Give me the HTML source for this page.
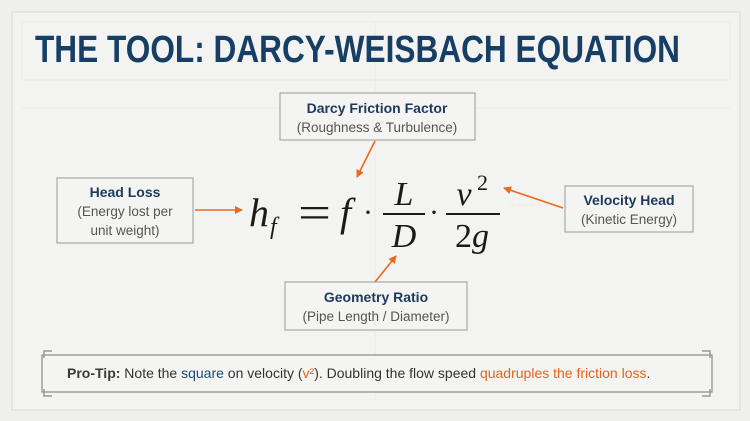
<!DOCTYPE html>
<html><head><meta charset="utf-8"><style>
html,body{margin:0;padding:0;background:#eeeeec;}
svg{display:block}
</style></head><body>
<svg width="750" height="421" viewBox="0 0 750 421" xmlns="http://www.w3.org/2000/svg">
<rect x="0" y="0" width="750" height="421" fill="#efefed"/>
<rect x="12" y="12" width="728" height="398" fill="#f3f3f1" stroke="#d8d8d6" stroke-width="1"/>
<rect x="22" y="22" width="708" height="58" fill="none" stroke="#e8e8e6" stroke-width="1"/>
<g stroke="#e8e8e6" stroke-width="1">
<line x1="375" y1="22" x2="375" y2="400"/>
<line x1="22" y1="108" x2="730" y2="108"/>
<line x1="510" y1="205" x2="560" y2="205" stroke-dasharray="4 3"/>
</g>
<text x="35" y="62" font-family="Liberation Sans, sans-serif" font-weight="bold" font-size="38" fill="#173f66" textLength="645" lengthAdjust="spacingAndGlyphs">THE TOOL: DARCY-WEISBACH EQUATION</text>

<g font-family="Liberation Sans, sans-serif" text-anchor="middle">
<rect x="280" y="93" width="195" height="47" fill="#f4f4f2" stroke="#9a9a9a"/>
<text x="377" y="113" font-size="14" font-weight="bold" fill="#1d3a5c">Darcy Friction Factor</text>
<text x="377" y="132" font-size="13.5" fill="#555">(Roughness &amp; Turbulence)</text>

<rect x="57" y="178" width="136" height="65" fill="#f4f4f2" stroke="#9a9a9a"/>
<text x="125" y="197" font-size="14" font-weight="bold" fill="#1d3a5c">Head Loss</text>
<text x="125" y="216" font-size="13.5" fill="#555">(Energy lost per</text>
<text x="125" y="235" font-size="13.5" fill="#555">unit weight)</text>

<rect x="565" y="186" width="128" height="46" fill="#f4f4f2" stroke="#9a9a9a"/>
<text x="629" y="205" font-size="14" font-weight="bold" fill="#1d3a5c">Velocity Head</text>
<text x="629" y="224" font-size="13.5" fill="#555">(Kinetic Energy)</text>

<rect x="285" y="282" width="182" height="48" fill="#f4f4f2" stroke="#9a9a9a"/>
<text x="376" y="302" font-size="14" font-weight="bold" fill="#1d3a5c">Geometry Ratio</text>
<text x="376" y="321" font-size="13.5" fill="#555">(Pipe Length / Diameter)</text>
</g>

<g font-family="Liberation Serif, serif" fill="#1a1a1a">
<text x="249" y="226" font-size="40" font-style="italic">h</text>
<text x="270" y="234" font-size="24" font-style="italic">f</text>
<text x="298" y="228" font-size="46" textLength="33" lengthAdjust="spacingAndGlyphs">=</text>
<text x="340" y="226" font-size="40" font-style="italic">f</text>
<text x="363" y="222" font-size="30">·</text>
<text x="404" y="205" font-size="34" font-style="italic" text-anchor="middle">L</text>
<line x1="383" y1="214" x2="425" y2="214" stroke="#1a1a1a" stroke-width="2"/>
<text x="404" y="247" font-size="34" font-style="italic" text-anchor="middle">D</text>
<text x="429" y="222" font-size="30">·</text>
<text x="464" y="205" font-size="34" font-style="italic" text-anchor="middle">v</text>
<text x="477" y="190" font-size="22">2</text>
<line x1="446" y1="214" x2="500" y2="214" stroke="#1a1a1a" stroke-width="2"/>
<text x="472" y="247" font-size="34" text-anchor="middle">2<tspan font-style="italic">g</tspan></text>
</g>

<defs><marker id="a" markerWidth="8" markerHeight="8" refX="7" refY="4" orient="auto" markerUnits="userSpaceOnUse"><path d="M0,0 L8,4 L0,8 z" fill="#ea6a1e"/></marker></defs>
<g stroke="#ea6a1e" stroke-width="1.6" fill="none" marker-end="url(#a)">
<line x1="195" y1="210" x2="242" y2="210"/>
<line x1="375" y1="141" x2="357" y2="177"/>
<line x1="375" y1="282" x2="396" y2="256"/>
<line x1="563" y1="208" x2="504" y2="188"/>
</g>

<rect x="42" y="355" width="670" height="37" fill="#f4f4f2" stroke="#8a8a8a" stroke-width="1.2"/>
<g stroke="#999" stroke-width="1.5" fill="none">
<path d="M44,358 V351 H52"/><path d="M44,389 V396 H52"/>
<path d="M710,358 V351 H702"/><path d="M710,389 V396 H702"/>
</g>
<text x="67" y="378" font-family="Liberation Sans, sans-serif" font-size="14" fill="#333"><tspan font-weight="bold" fill="#3a3a3a">Pro-Tip:</tspan> Note the <tspan fill="#1d4a7a">square</tspan> on velocity (<tspan fill="#e0661c">v²</tspan>). Doubling the flow speed <tspan fill="#e0661c">quadruples the friction loss</tspan>.</text>
</svg>
</body></html>
